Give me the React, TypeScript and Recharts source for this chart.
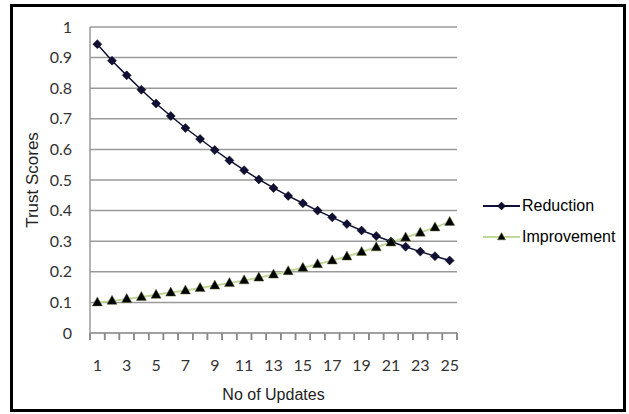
import React from 'react';
import { LineChart, Line, XAxis, YAxis, CartesianGrid, Legend, ReferenceLine } from 'recharts';

// Trust score per update step
const updates = [1, 2, 3, 4, 5, 6, 7, 8, 9, 10, 11, 12, 13, 14, 15, 16, 17, 18, 19, 20, 21, 22, 23, 24, 25];
const reduction = [
  0.944, 0.89, 0.842, 0.795, 0.75, 0.709, 0.67, 0.634, 0.598, 0.564, 0.532, 0.502, 0.474,
  0.448, 0.424, 0.4, 0.378, 0.356, 0.335, 0.317, 0.299, 0.282, 0.266, 0.251, 0.237,
];
const improvement = [
  0.1, 0.105, 0.111, 0.118, 0.125, 0.132, 0.139, 0.147, 0.155, 0.163, 0.172, 0.181, 0.191,
  0.202, 0.213, 0.225, 0.237, 0.25, 0.265, 0.28, 0.296, 0.312, 0.328, 0.345, 0.363,
];
const yTicks = [0, 0.1, 0.2, 0.3, 0.4, 0.5, 0.6, 0.7, 0.8, 0.9, 1];
const xLabelTicks = [1, 3, 5, 7, 9, 11, 13, 15, 17, 19, 21, 23, 25];

const data = updates.map((n, i) => ({ n, reduction: reduction[i], improvement: improvement[i] }));
// tick marks sit between categories, like a category axis
const boundaryTicks = [...updates.map((n) => n - 0.5), updates[updates.length - 1] + 0.5];
const xDomain = [boundaryTicks[0], boundaryTicks[boundaryTicks.length - 1]];

const WIDTH = 629;
const HEIGHT = 414;
const Y_AXIS_W = 90;
const MARGIN = { top: 27, right: 172, left: 0, bottom: 0 };
const PLOT_W = WIDTH - MARGIN.left - MARGIN.right - Y_AXIS_W;
const HALF_STEP = PLOT_W / updates.length / 2;
const TICK_LEN = 7;
const TICK_GAP = 20;
// tick mark length expressed on the value axis (plot is ~306px tall for 0..1)
const TICK_DROP = -0.023;

const REDUCTION_COLOR = '#101036';
const IMPROVEMENT_COLOR = '#c4d79b';
const GRID = '#9a9a9a';
const TICK_COLOR = '#888';

const tickFont = { fontFamily: 'Lato, "Open Sans", sans-serif', fontSize: 16, fill: '#333' };
const titleFont = { fontFamily: '"Liberation Sans", Arial, sans-serif', fontSize: 16, fill: '#222' };

// odd categories get a label centred in the band to the right of the boundary tick
const CategoryTick = ({ x, y, payload }: any) => {
  const n = payload.value + 0.5;
  if (!xLabelTicks.includes(n)) return <g />;
  return (
    <text x={x + HALF_STEP} y={y} dy="0.71em" textAnchor="middle" {...tickFont}>
      {n}
    </text>
  );
};

const Diamond = ({ cx, cy, size = 4.5 }: any) => {
  if (cx == null || cy == null) return null;
  return (
    <polygon
      points={`${cx},${cy - size} ${cx + size},${cy} ${cx},${cy + size} ${cx - size},${cy}`}
      fill={REDUCTION_COLOR}
      stroke="#000"
      strokeWidth={0.5}
    />
  );
};

const Triangle = ({ cx, cy, size = 5 }: any) => {
  if (cx == null || cy == null) return null;
  return (
    <polygon
      points={`${cx},${cy - size - 0.5} ${cx + size},${cy + size * 0.7} ${cx - size},${cy + size * 0.7}`}
      fill="#000"
      stroke="#5d6b2e"
      strokeWidth={0.5}
    />
  );
};

const legendItems = [
  { name: 'Reduction', color: REDUCTION_COLOR, Marker: Diamond },
  { name: 'Improvement', color: IMPROVEMENT_COLOR, Marker: Triangle },
];

const LegendContent = () => (
  <div style={{ fontFamily: '"Liberation Sans", Arial, sans-serif', fontSize: 16, color: '#000' }}>
    {legendItems.map(({ name, color, Marker }) => (
      <div key={name} style={{ display: 'flex', alignItems: 'center', height: 31 }}>
        <svg width={37} height={14}>
          <line x1={0} y1={7} x2={37} y2={7} stroke={color} strokeWidth={2} />
          <Marker cx={18.5} cy={7} size={4} />
        </svg>
        <span style={{ marginLeft: 2 }}>{name}</span>
      </div>
    ))}
  </div>
);

export default function App() {
  return (
    <div style={{ position: 'absolute', left: 0, top: 0, width: WIDTH, height: HEIGHT, background: '#fff' }}>
      <div
        style={{
          position: 'absolute',
          left: 10,
          top: 4,
          width: 616,
          height: 408,
          border: '3px solid #000',
          boxSizing: 'border-box',
        }}
      />
      <LineChart
        width={WIDTH}
        height={HEIGHT}
        data={data}
        margin={MARGIN}
        style={{ position: 'absolute', left: 0, top: 0 }}
      >
        <CartesianGrid vertical={false} stroke={GRID} strokeWidth={1.5} />
        <XAxis
          type="number"
          dataKey="n"
          domain={xDomain}
          ticks={boundaryTicks}
          interval={0}
          tick={<CategoryTick />}
          tickSize={TICK_LEN}
          tickMargin={TICK_GAP}
          tickLine={{ stroke: TICK_COLOR, strokeWidth: 1.5 }}
          axisLine={{ stroke: GRID, strokeWidth: 1.5 }}
          height={81}
          label={{ value: 'No of Updates', position: 'insideBottom', offset: 14, style: titleFont }}
        />
        <YAxis
          type="number"
          domain={[0, 1]}
          ticks={yTicks}
          interval={0}
          width={Y_AXIS_W}
          tick={tickFont}
          tickLine={false}
          tickMargin={12}
          axisLine={{ stroke: GRID, strokeWidth: 1.5 }}
          label={{
            value: 'Trust Scores',
            angle: -90,
            position: 'insideLeft',
            offset: 32,
            style: { ...titleFont, fontSize: 17, textAnchor: 'middle' },
          }}
        />
        {/* short marks hanging below the category axis */}
        {boundaryTicks.map((b) => (
          <ReferenceLine
            key={b}
            segment={[
              { x: b, y: 0 },
              { x: b, y: TICK_DROP },
            ]}
            stroke={TICK_COLOR}
            strokeWidth={1.5}
            ifOverflow="visible"
          />
        ))}
        <Legend
          layout="vertical"
          align="center"
          verticalAlign="middle"
          content={<LegendContent />}
          wrapperStyle={{ left: 483, top: 190, width: 140 }}
        />
        <Line
          type="linear"
          dataKey="reduction"
          name="Reduction"
          stroke={REDUCTION_COLOR}
          strokeWidth={1.5}
          dot={<Diamond />}
          activeDot={false}
          isAnimationActive={false}
        />
        <Line
          type="linear"
          dataKey="improvement"
          name="Improvement"
          stroke={IMPROVEMENT_COLOR}
          strokeWidth={2}
          dot={<Triangle />}
          activeDot={false}
          isAnimationActive={false}
        />
      </LineChart>
    </div>
  );
}
